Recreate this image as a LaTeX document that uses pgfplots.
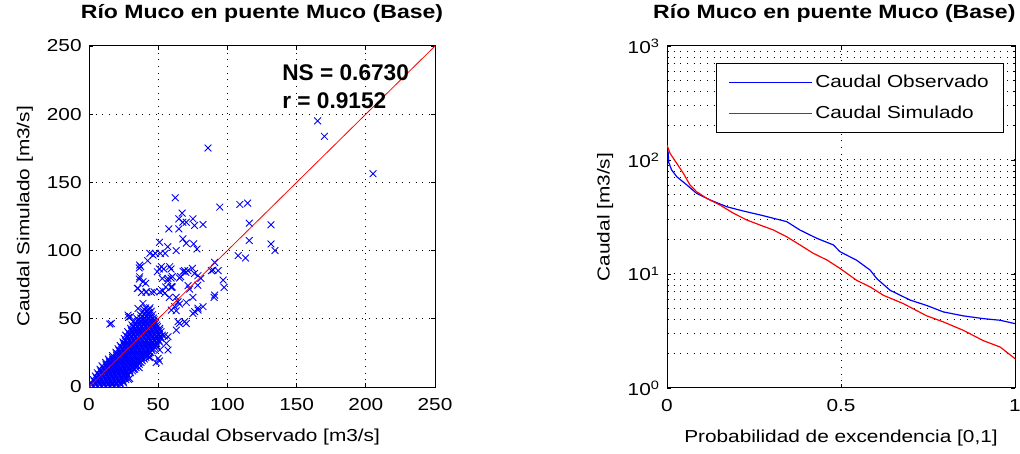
\documentclass[border=0pt]{standalone}
\usepackage{fontspec}
\setmainfont{Liberation Sans}[FakeStretch=1.2]
\newfontfamily\nsfont{Liberation Sans}
\usepackage{pgfplots}
\pgfplotsset{compat=1.18}
\pgfplotsset{
  mstyle/.style={
    scale only axis,
    axis line style={black, line width=0.75pt},
    tick align=inside,
    xtick pos=both, ytick pos=both,
    major tick length=3pt, minor tick length=1.8pt,
    every tick/.style={black, line width=0.6pt},
    grid style={black, line width=0.75pt, dash pattern=on 0.75pt off 4.25pt},
    /pgf/number format/assume math mode=true,
    tick label style={font=\fontsize{13}{15}\selectfont},
    label style={font=\fontsize{13}{15}\selectfont},
    title style={font=\bfseries\fontsize{14.4}{16}\selectfont, anchor=base, at={(0.5,1)}, yshift=14.4pt},
    xticklabel shift=5pt,
    yticklabel shift=2pt,
    xlabel style={at={(axis description cs:0.5,0)}, anchor=center, yshift=-37.5pt},
  }
}
\begin{document}
\begin{tikzpicture}
\path[use as bounding box] (0,0) rectangle (765pt,339.75pt);
% ---------------- left: scatter ----------------
\begin{axis}[mstyle,
  at={(66.75pt,49.5pt)}, anchor=south west,
  width=259.5pt, height=255.75pt,
  xmin=0, xmax=250, ymin=0, ymax=250,
  xtick={0,50,100,150,200,250}, ytick={0,50,100,150,200,250},
  xmajorgrids, ymajorgrids,
  clip marker paths=true,
  title={Río Muco en puente Muco (Base)},
  xlabel={Caudal Observado [m3/s]},
  ylabel={Caudal Simulado [m3/s]},
  ylabel style={at={(axis description cs:-0.185,0.5)}, anchor=center, rotate=0},
]
\addplot[only marks, mark=x, mark size=3.6pt, color=blue, mark options={line width=0.65pt}] coordinates {
(0.5,0.5)(3,0.5)(6,0.5)(9,0.5)(12,0.5)(15,0.5)(18,0.5)(21,0.5)
(1.5,3)(4.5,3)(7.5,3)(10.5,3)(13.5,3)(16.5,3)(19.5,3)(22.5,3)(25,3)
(3,5.5)(6,5.5)(9,5.5)(12,5.5)(15,5.5)(18,5.5)(21,5.5)(24,5.5)(26.5,5.5)
(4.5,8)(7.5,8)(10.5,8)(13.5,8)(16.5,8)(19.5,8)(22.5,8)(25.5,8)(27.5,8)
(6,10.5)(9,10.5)(12,10.5)(15,10.5)(18,10.5)(21,10.5)(24,10.5)(27,10.5)(30,10.5)
(8,13)(11,13)(14,13)(17,13)(20,13)(23,13)(26,13)(29,13)(32,13)(33,13)
(9.5,15.5)(12.5,15.5)(15.5,15.5)(18.5,15.5)(21.5,15.5)(24.5,15.5)(27.5,15.5)(30.5,15.5)(33.5,15.5)(35,15.5)
(12,18)(15,18)(18,18)(21,18)(24,18)(27,18)(30,18)(33,18)(36,18)(37.5,18)
(14,20.5)(17,20.5)(20,20.5)(23,20.5)(26,20.5)(29,20.5)(32,20.5)(35,20.5)(38,20.5)(40,20.5)
(17,23)(20,23)(23,23)(26,23)(29,23)(32,23)(35,23)(38,23)(41,23)(42,23)
(19.5,25.5)(22.5,25.5)(25.5,25.5)(28.5,25.5)(31.5,25.5)(34.5,25.5)(37.5,25.5)(40.5,25.5)(43.5,25.5)(44.5,25.5)
(21,28)(24,28)(27,28)(30,28)(33,28)(36,28)(39,28)(42,28)(45,28)(46.5,28)
(22.5,30.5)(25.5,30.5)(28.5,30.5)(31.5,30.5)(34.5,30.5)(37.5,30.5)(40.5,30.5)(43.5,30.5)(46.5,30.5)(48.5,30.5)
(24.5,33)(27.5,33)(30.5,33)(33.5,33)(36.5,33)(39.5,33)(42.5,33)(45.5,33)(48.5,33)(51,33)
(25.5,35.5)(28.5,35.5)(31.5,35.5)(34.5,35.5)(37.5,35.5)(40.5,35.5)(43.5,35.5)(46.5,35.5)(49.5,35.5)(52,35.5)
(26.5,38)(29.5,38)(32.5,38)(35.5,38)(38.5,38)(41.5,38)(44.5,38)(47.5,38)(50.5,38)(53,38)
(28,40.5)(31,40.5)(34,40.5)(37,40.5)(40,40.5)(43,40.5)(46,40.5)(49,40.5)(52,40.5)
(30,43)(33,43)(36,43)(39,43)(42,43)(45,43)(48,43)(51,43)
(31,45.5)(34,45.5)(37,45.5)(40,45.5)(43,45.5)(46,45.5)(49,45.5)
(32,48)(35,48)(38,48)(41,48)(44,48)(47,48)
(34.5,50.5)(37.5,50.5)(40.5,50.5)(43.5,50.5)(46.5,50.5)
(37,53)(40,53)(43,53)(46,53)
(39,55.5)(42,55.5)(45,55.5)
(41,58)(44,58)
(2,1.75)(5,1.75)(8,1.75)(11,1.75)(14,1.75)(17,1.75)(20,1.75)(23,1.75)
(3.75,4.25)(6.75,4.25)(9.75,4.25)(12.75,4.25)(15.75,4.25)(18.75,4.25)(21.75,4.25)(24.75,4.25)
(5.25,6.75)(8.25,6.75)(11.25,6.75)(14.25,6.75)(17.25,6.75)(20.25,6.75)(23.25,6.75)(26.25,6.75)
(6.75,9.25)(9.75,9.25)(12.75,9.25)(15.75,9.25)(18.75,9.25)(21.75,9.25)(24.75,9.25)(27.75,9.25)
(8.5,11.75)(11.5,11.75)(14.5,11.75)(17.5,11.75)(20.5,11.75)(23.5,11.75)(26.5,11.75)(29.5,11.75)(31.5,11.75)
(10.25,14.25)(13.25,14.25)(16.25,14.25)(19.25,14.25)(22.25,14.25)(25.25,14.25)(28.25,14.25)(31.25,14.25)(34,14.25)
(12.25,16.75)(15.25,16.75)(18.25,16.75)(21.25,16.75)(24.25,16.75)(27.25,16.75)(30.25,16.75)(33.25,16.75)(36.25,16.75)
(14.5,19.25)(17.5,19.25)(20.5,19.25)(23.5,19.25)(26.5,19.25)(29.5,19.25)(32.5,19.25)(35.5,19.25)(38.5,19.25)
(17,21.75)(20,21.75)(23,21.75)(26,21.75)(29,21.75)(32,21.75)(35,21.75)(38,21.75)(41,21.75)
(19.75,24.25)(22.75,24.25)(25.75,24.25)(28.75,24.25)(31.75,24.25)(34.75,24.25)(37.75,24.25)(40.75,24.25)(43.25,24.25)
(21.75,26.75)(24.75,26.75)(27.75,26.75)(30.75,26.75)(33.75,26.75)(36.75,26.75)(39.75,26.75)(42.75,26.75)(45.5,26.75)
(23.25,29.25)(26.25,29.25)(29.25,29.25)(32.25,29.25)(35.25,29.25)(38.25,29.25)(41.25,29.25)(44.25,29.25)(47.25,29.25)
(25,31.75)(28,31.75)(31,31.75)(34,31.75)(37,31.75)(40,31.75)(43,31.75)(46,31.75)(49,31.75)
(26.5,34.25)(29.5,34.25)(32.5,34.25)(35.5,34.25)(38.5,34.25)(41.5,34.25)(44.5,34.25)(47.5,34.25)(50.5,34.25)
(27.5,36.75)(30.5,36.75)(33.5,36.75)(36.5,36.75)(39.5,36.75)(42.5,36.75)(45.5,36.75)(48.5,36.75)(51.5,36.75)
(29,39.25)(32,39.25)(35,39.25)(38,39.25)(41,39.25)(44,39.25)(47,39.25)(50,39.25)
(30.5,41.75)(33.5,41.75)(36.5,41.75)(39.5,41.75)(42.5,41.75)(45.5,41.75)(48.5,41.75)(51,41.75)
(32,44.25)(35,44.25)(38,44.25)(41,44.25)(44,44.25)(47,44.25)(49.5,44.25)
(33.5,46.75)(36.5,46.75)(39.5,46.75)(42.5,46.75)(45.5,46.75)(48,46.75)
(35.5,49.25)(38.5,49.25)(41.5,49.25)(44.5,49.25)(47,49.25)
(38.5,51.75)(41.5,51.75)(44.5,51.75)
(40.5,54.25)(43.5,54.25)
(40,56.75)(43.5,56.75)
(165.2,195.1)(170.1,183.8)(86.0,175.2)(205.2,156.4)(62.3,138.7)(94.5,131.9)
(109.0,133.8)(114.6,134.8)(67.3,127.5)(64.9,123.3)(67.8,120.8)(70.3,120.8)
(75.1,123.3)(76.3,118.4)(82.4,119.1)(57.7,115.9)(64.9,115.9)(115.8,120.1)
(131.5,118.9)(115.8,107.4)(131.5,104.9)(134.4,100.0)(50.9,106.1)(56.9,102.9)
(63.0,100.0)(67.8,108.6)(70.3,105.4)(75.6,104.9)(78.0,101.2)(107.8,96.3)
(113.1,94.6)(90.8,91.4)(93.3,85.3)(88.4,85.3)(96.9,78.4)(97.6,73.0)
(90.4,65.7)(78.7,57.8)(75.1,53.9)(70.3,46.6)(65.4,46.6)(15.0,46.1)
(44.0,98.0)(48.0,98.0)(51.6,98.0)(55.0,98.0)(42.4,92.6)(36.3,87.3)
(36.3,79.2)(38.0,69.4)(41.2,69.4)(45.0,69.4)(50.9,86.5)(54.0,86.5)
(59.3,86.5)(65.4,79.9)(68.0,84.8)(69.1,85.3)(71.5,85.3)(70.0,84.0)
(78.7,81.6)(59.3,79.9)(56.9,77.9)(59.3,73.0)(53.3,70.6)(58.1,65.7)
(63.0,65.7)(72.7,71.8)(75.1,65.7)(65.4,60.8)(70.3,62.0)(63.0,55.9)
(28.6,51.0)(46.5,46.1)(54.5,37.5)(48.9,30.1)(44.1,25.2)(48.5,17.9)
(36.3,14.2)(28.6,5.6)(43.6,21.6)(50.9,19.1)(36.6,89.4)(46.3,96.7)
(36.6,80.8)(39.0,77.2)(35.4,72.3)(41.4,69.8)(51.1,69.8)(54.7,68.6)
(57.1,79.6)(59.5,73.5)(52.3,88.2)(58.3,88.2)(89.6,85.7)(90.8,67.4)
(78.8,56.4)(76.4,55.2)(82.4,58.9)(64.3,62.5)(61.9,58.9)(59.5,56.4)
(69.1,47.9)(64.3,47.9)(63.1,41.7)(57.1,36.9)(55.9,32.0)(57.1,27.1)
(51.1,27.1)(49.9,21.0)(43.8,22.2)(29.4,6.3)(16.1,46.6)(28.2,52.7)
(30.0,51.5)(39.0,61.3)(35.4,57.6)(41.0,76.0)(34.9,72.3)(47.0,69.8)
(49.4,84.5)(60.2,80.9)(52.9,79.6)(74.7,87.0)(80.8,79.6)(76.2,83.2)
(78.6,74.6)(66.2,80.9)(55.4,73.3)(60.2,73.3)(71.6,74.3)(37.4,88.2)
};
\addplot[red, line width=0.6pt] coordinates {(0,0) (250,250)};
\node[anchor=base west, font=\nsfont\bfseries\fontsize{17}{19}\selectfont, inner sep=0pt] at (axis cs:139.5,225) {NS = 0.6730};
\node[anchor=base west, font=\nsfont\bfseries\fontsize{17}{19}\selectfont, inner sep=0pt] at (axis cs:139.5,204.3) {r = 0.9152};
\end{axis}
% ---------------- right: duration curves ----------------
\begin{semilogyaxis}[mstyle,
  at={(500.25pt,48.75pt)}, anchor=south west,
  width=261pt, height=256.5pt,
  xmin=0, xmax=1, ymin=1, ymax=1000,
  xtick={0,0.5,1}, xticklabels={0,0.5,1},
  ytick={1,10,100,1000},
  yticklabels={10\textsuperscript{0},10\textsuperscript{1},10\textsuperscript{2},10\textsuperscript{3}},
  xmajorgrids, ymajorgrids, yminorgrids,
  title={Río Muco en puente Muco (Base)},
  title style={xshift=-5pt},
  xlabel={Probabilidad de excendencia [0,1]},
  ylabel={Caudal [m3/s]},
  ylabel style={at={(axis description cs:-0.178,0.5)}, anchor=center, rotate=0},
  legend image code/.code={\draw[#1, line width=1.2pt] (0pt,0pt) -- (62pt,0pt);},
  legend cell align=left,
  legend style={at={(1,1)}, anchor=north east, xshift=-8.25pt, yshift=-13pt,
    draw=black, line width=0.75pt, fill=white,
    font=\fontsize{13}{15}\selectfont,
    inner xsep=9pt, inner ysep=6.5pt, row sep=8.5pt},
]
\addplot[blue, line width=0.9pt] coordinates {
(0.003,120)(0.005,95)(0.0134,81.7)(0.028,71.4)(0.057,60.4)(0.085,51)(0.124,44.6)
(0.172,38.9)(0.219,35.7)(0.267,33)(0.306,30.8)(0.344,28.8)(0.382,24.3)(0.430,20.6)
(0.478,18)(0.497,15.7)(0.545,13.2)(0.584,10.8)(0.603,9.1)(0.641,7.2)(0.699,5.9)
(0.746,5.3)(0.794,4.65)(0.852,4.29)(0.909,4.06)(0.957,3.93)(1,3.67)
};
\addlegendentry{Caudal Observado}
\addplot[red, line width=0.9pt] coordinates {
(0,135.4)(0.0086,114.5)(0.028,93.5)(0.047,76.4)(0.066,60.4)(0.085,52.7)(0.114,46.1)
(0.152,40.3)(0.191,34.1)(0.229,29.8)(0.267,26.9)(0.306,24.3)(0.344,21.2)(0.382,18)
(0.420,15.2)(0.459,13.3)(0.497,11.2)(0.545,8.8)(0.584,7.7)(0.622,6.5)(0.679,5.5)
(0.746,4.3)(0.794,3.8)(0.852,3.2)(0.909,2.6)(0.957,2.29)(1,1.81)
};
\addlegendentry{Caudal Simulado}
\end{semilogyaxis}
\end{tikzpicture}
\end{document}
